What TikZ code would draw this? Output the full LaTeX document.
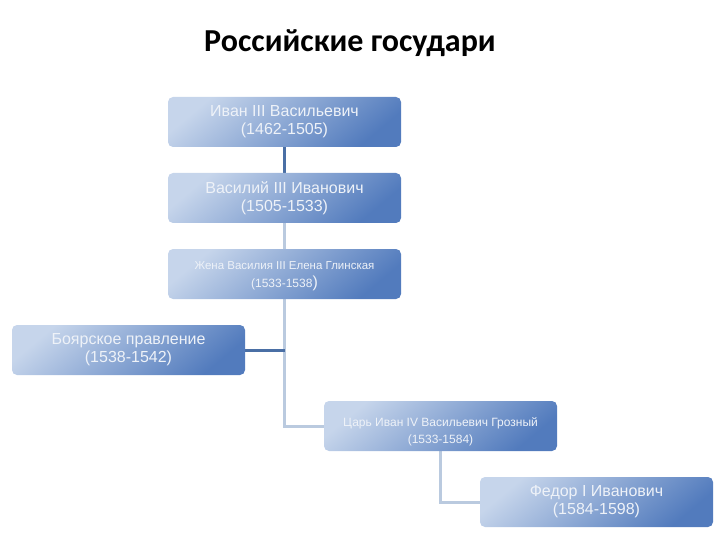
\documentclass[tikz,border=0pt]{standalone}
\usepackage{fontspec}
\setmainfont{Liberation Sans}
\newfontfamily\titlefont{Carlito}
\pgfdeclarelayer{bg}
\pgfsetlayers{bg,main}
\definecolor{boxlight}{HTML}{C6D5EB}
\definecolor{boxdark}{HTML}{527BBD}
\definecolor{lndark}{HTML}{4A6FA5}
\definecolor{lnlight}{HTML}{BACADF}
\definecolor{txt}{HTML}{EEF2F8}
\tikzset{
  govbox/.style={rectangle, rounded corners=5pt, minimum width=233pt, minimum height=50pt,
    top color=boxlight, bottom color=boxdark, shading angle=40, inner sep=2pt,
    text=txt, align=center, font=\fontsize{16}{18}\selectfont},
  darkln/.style={draw=lndark, line width=3pt},
  lightln/.style={draw=lnlight, line width=3pt},
}
\begin{document}
\begin{tikzpicture}[x=1pt,y=-1pt]
\useasboundingbox (0,0) rectangle (720,540);
\node[font=\titlefont\bfseries\fontsize{32}{34}\selectfont] (title) at (350,43) {Российские государи};
\node[govbox] (b1) at (284.5,122) {Иван III Васильевич\\(1462-1505)};
\node[govbox] (b2) at (284.5,198) {Василий III Иванович\\(1505-1533)};
\node[govbox, font=\fontsize{11.5}{18}\selectfont] (b3) at (284.5,274) {\rule{0pt}{12pt}Жена Василия III Елена Глинская\\{\fontsize{12}{18}\selectfont(1533-1538}{\fontsize{16}{16}\selectfont)}};
\node[govbox] (b4) at (128.5,350) {Боярское правление\\(1538-1542)};
\node[govbox, font=\fontsize{12}{17}\selectfont] (b5) at (440.5,426) {\rule{0pt}{20pt}Царь Иван IV Васильевич Грозный\\(1533-1584)};
\node[govbox] (b6) at (596.5,502) {Федор I Иванович\\(1584-1598)};
\begin{pgfonlayer}{bg}
\draw[darkln] (b1.south) -- (b2.north);
\draw[lightln] (b2.south) -- (b3.north);
\draw[lightln] (b3.south) |- (b5.west);
\draw[darkln] (b4.east) -- (b4.east -| b3.south);
\draw[lightln] (b5.south) |- (b6.west);
\end{pgfonlayer}
\end{tikzpicture}
\end{document}
